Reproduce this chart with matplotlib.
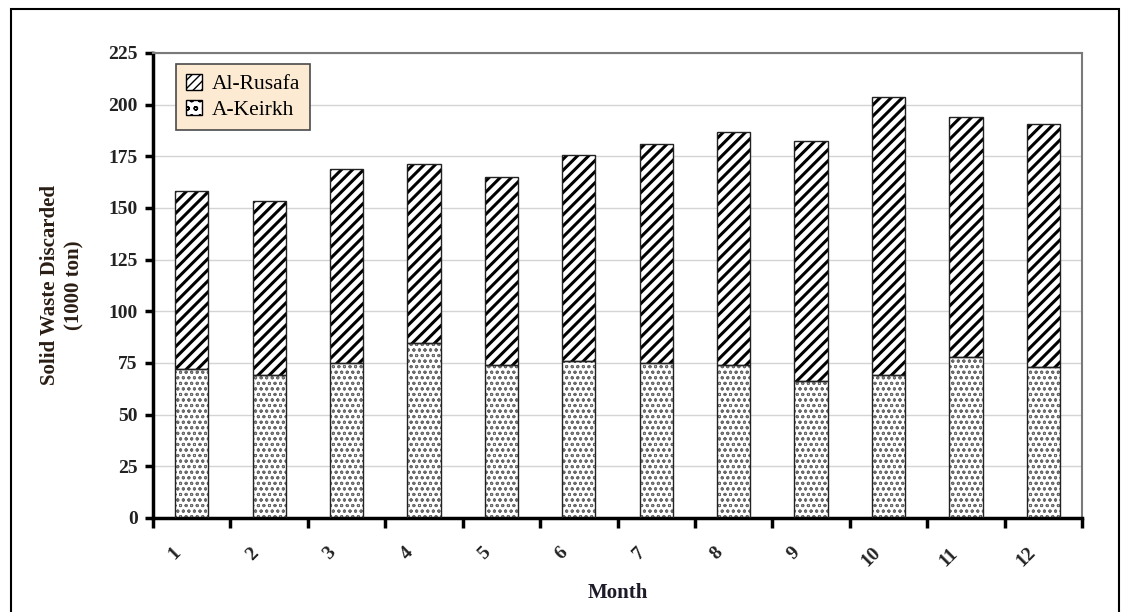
import matplotlib
matplotlib.use("Agg")
import matplotlib.pyplot as plt
import matplotlib.patches as patches
from matplotlib.transforms import ScaledTranslation

# monthly solid waste discarded, thousand tons
months = ["1", "2", "3", "4", "5", "6", "7", "8", "9", "10", "11", "12"]
keirkh = [72, 69, 75, 84.5, 74, 76, 75, 74, 66.5, 69, 78, 73]
totals = [158, 153.5, 169, 171.5, 165, 175.5, 181, 187, 182.5, 203.5, 194, 190.5]
rusafa = [t - k for t, k in zip(totals, keirkh)]
yticks = [0, 25, 50, 75, 100, 125, 150, 175, 200, 225]

plt.rcParams['font.family'] = ['Liberation Serif', 'DejaVu Serif']
plt.rcParams['font.weight'] = 'bold'

fig = plt.figure(figsize=(11.27, 6.12), dpi=100)
ax = fig.add_axes([0.1358, 0.1536, 0.8243, 0.7598])

x = [i + 0.5 for i in range(len(months))]
w = 0.43

# lower segment: fine gray dotted pattern
with plt.rc_context({'hatch.linewidth': 0.7}):
    ax.bar(x, keirkh, w, color='white', edgecolor='#6a6a6a', hatch='ooo', linewidth=0, zorder=2)
# upper segment: heavy diagonal stripes
with plt.rc_context({'hatch.linewidth': 2.2}):
    ax.bar(x, rusafa, w, bottom=keirkh, color='white', edgecolor='black', hatch='///', linewidth=0, zorder=2)
# outlines
ax.bar(x, keirkh, w, fill=False, edgecolor='#222222', linewidth=1.0, zorder=3)
ax.bar(x, rusafa, w, bottom=keirkh, fill=False, edgecolor='#222222', linewidth=1.0, zorder=3)

ax.set_xlim(0, 12)
ax.set_ylim(0, 225)
ax.set_yticks(yticks)
ax.yaxis.grid(True, color='#d4d4d4', linewidth=1.0)
ax.set_axisbelow(True)

ax.set_xticks(range(13))
ax.set_xticklabels([])
ax.set_xticks(x, minor=True)
ax.set_xticklabels(months, minor=True, rotation=45, ha='center', va='top')
ax.tick_params(axis='x', which='minor', length=0, pad=19, labelsize=14, labelcolor='#222222')
ax.tick_params(axis='x', which='major', direction='out', length=7, width=2.5)
ax.tick_params(axis='y', direction='out', length=6, width=2.5, pad=5, labelsize=14, labelcolor='#222222')
off = ScaledTranslation(-0.17, 0, fig.dpi_scale_trans)
for lbl in ax.get_xticklabels(minor=True):
    lbl.set_transform(lbl.get_transform() + off)

for s in ['left', 'bottom']:
    ax.spines[s].set_linewidth(2.5)
    ax.spines[s].set_color('black')
for s in ['top', 'right']:
    ax.spines[s].set_linewidth(1.5)
    ax.spines[s].set_color('#7a7a7a')

ax.set_xlabel("Month", fontsize=15, fontweight='bold', color='#1e1a28', labelpad=9)
ax.set_ylabel("Solid Waste Discarded\n(1000 ton)", fontsize=15, fontweight='bold',
              color='#2a1e14', labelpad=17, linespacing=1.3)

with plt.rc_context({'hatch.linewidth': 1.5}):
    h1 = patches.Patch(facecolor='white', edgecolor='black', hatch='////', linewidth=1)
    h2 = patches.Patch(facecolor='white', edgecolor='black', hatch='oo', linewidth=1)
leg = ax.legend([h1, h2], ["Al-Rusafa", "A-Keirkh"], loc='upper left',
                bbox_to_anchor=(0.0248, 0.976), borderaxespad=0,
                handlelength=0.75, handleheight=0.75, handletextpad=0.45,
                labelspacing=0.25, borderpad=0.45, fancybox=False, framealpha=1,
                prop={'weight': 'normal', 'size': 15.5})
leg.get_frame().set_facecolor('#fcebd2')
leg.get_frame().set_edgecolor('#4a4a4a')
leg.get_frame().set_linewidth(1.2)

# outer frame around the figure
fig.patches.append(patches.Rectangle((11 / 1127, -0.02), 1108 / 1127, 1.02 - 9 / 612,
                                     transform=fig.transFigure, fill=False,
                                     edgecolor='black', linewidth=1.5))

fig.savefig("out.png", dpi=100)
